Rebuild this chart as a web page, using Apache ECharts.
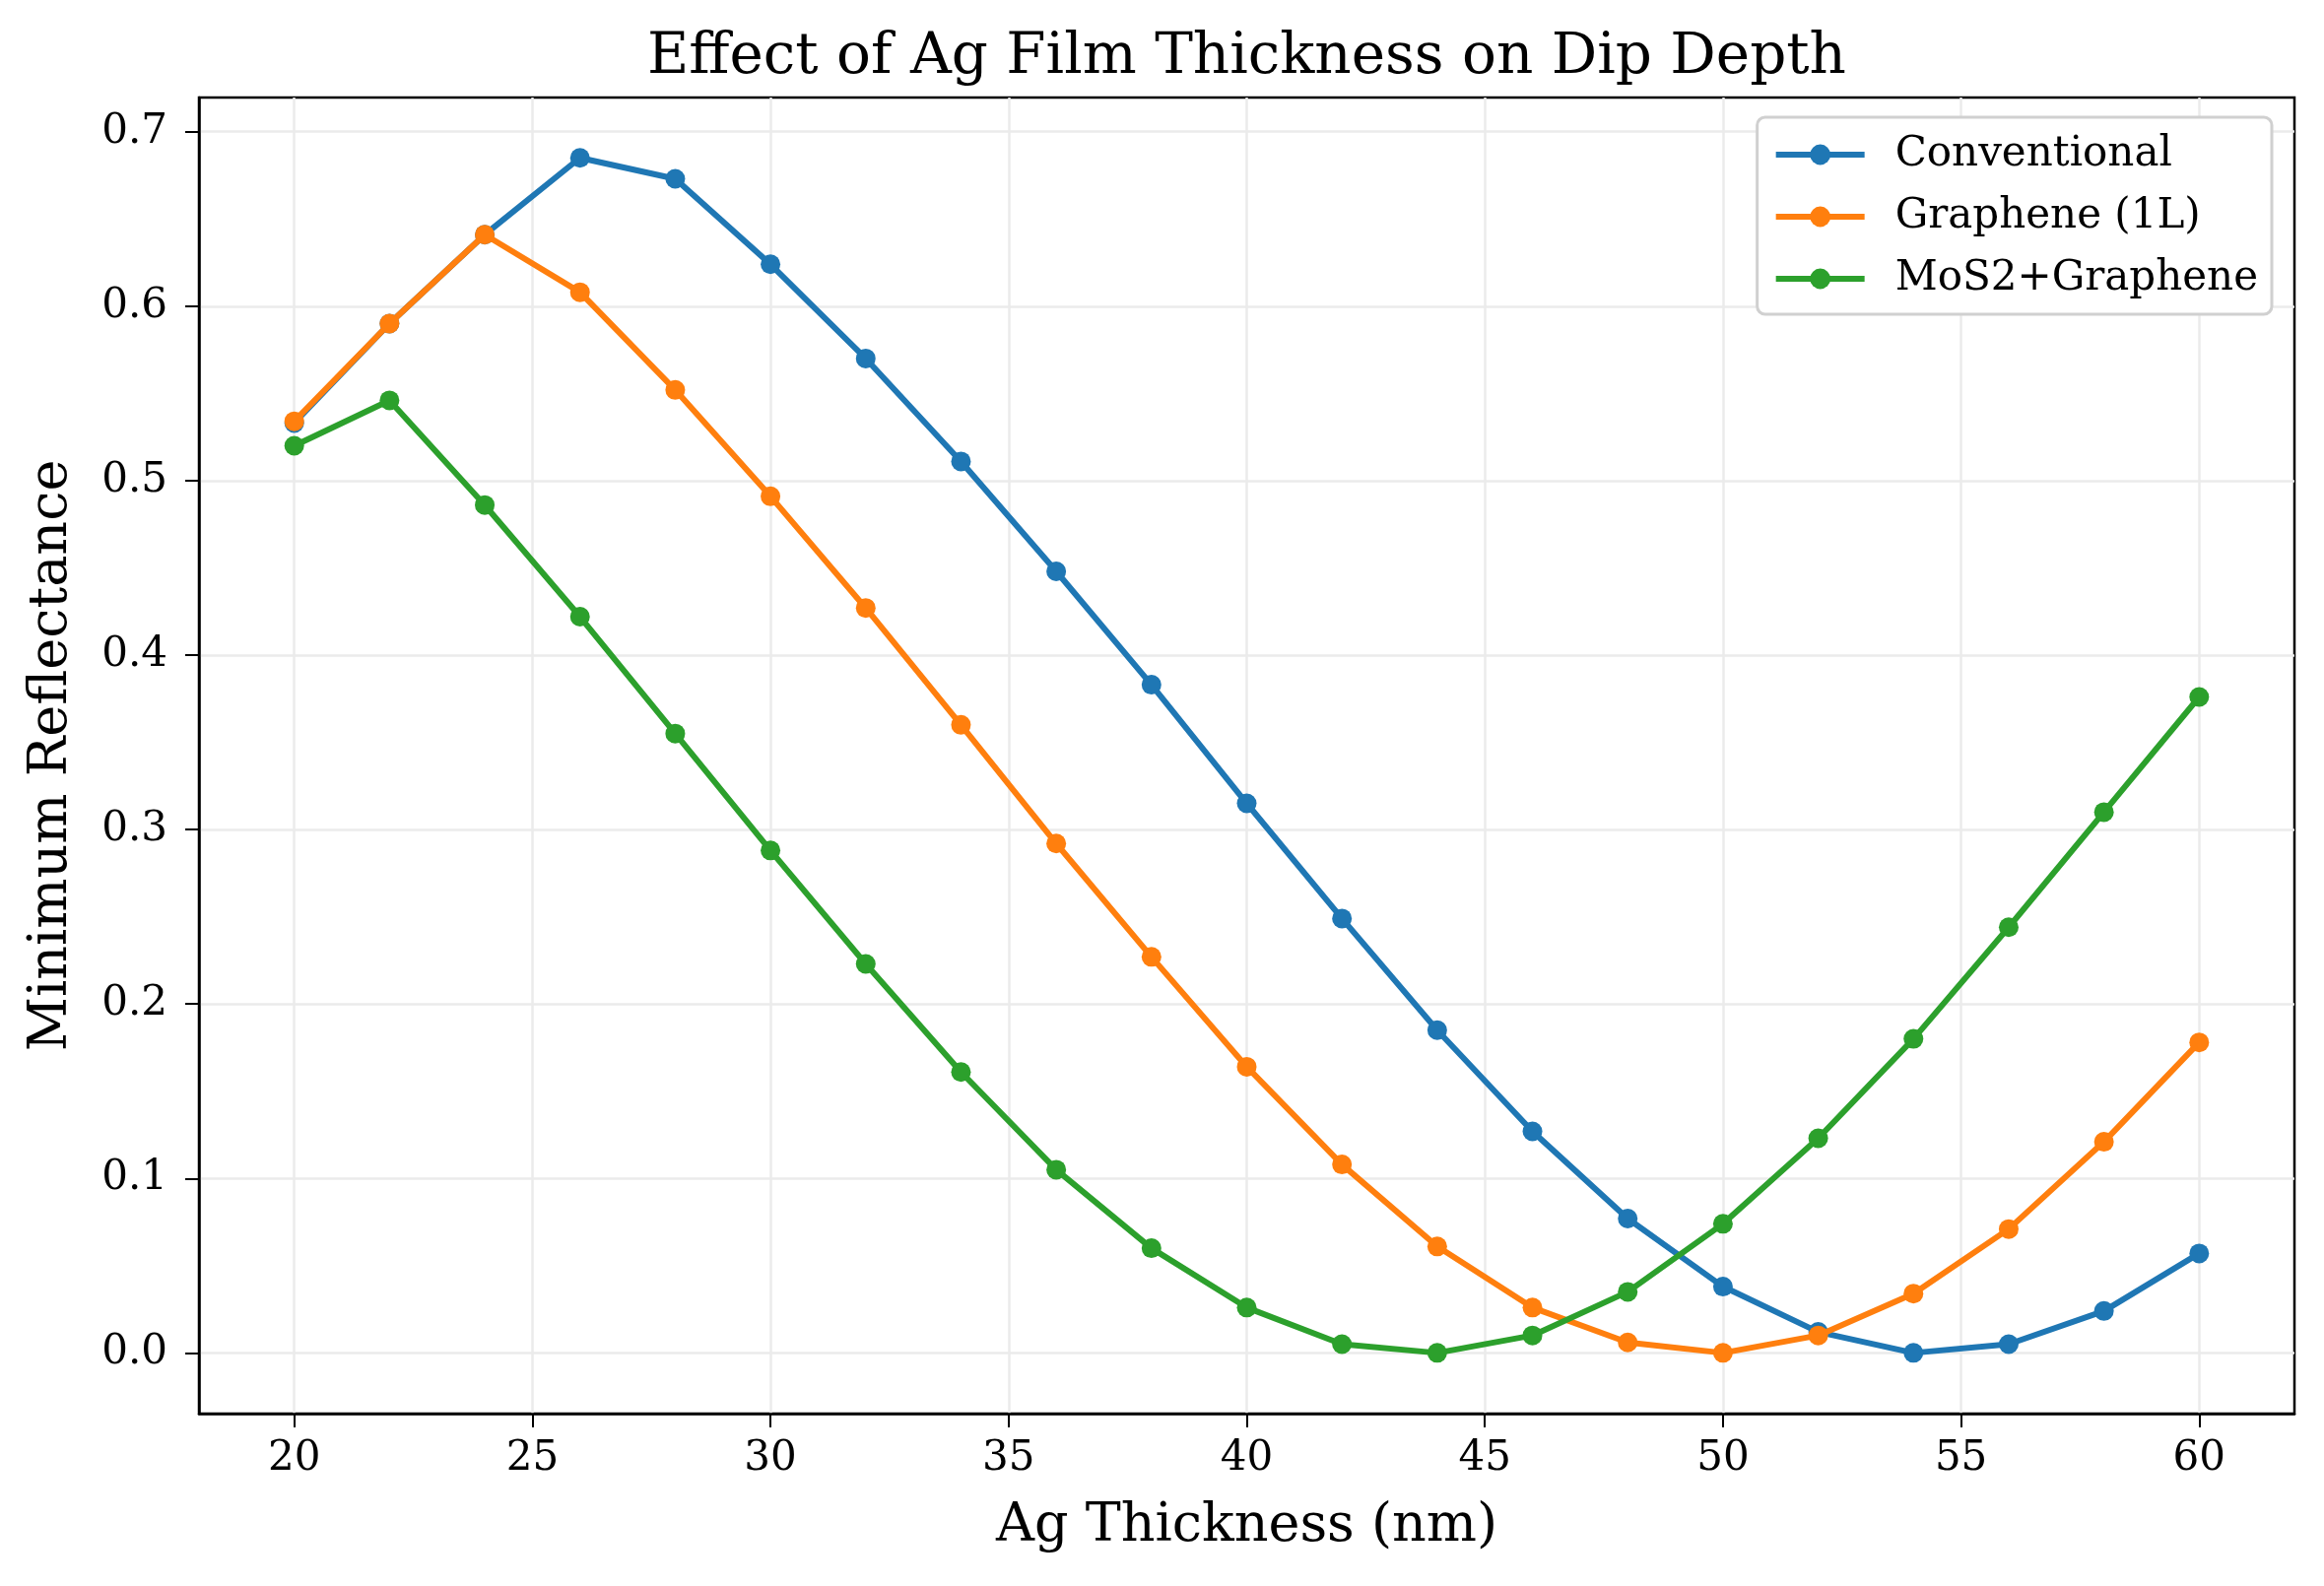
<!DOCTYPE html>
<html>
<head>
<meta charset="utf-8">
<script src="https://cdn.jsdelivr.net/npm/echarts@6/dist/echarts.min.js"></script>
<style>
  html, body { margin: 0; padding: 0; background: #fff; }
  #chart { width: 2359px; height: 1610px; }
</style>
</head>
<body>
<div id="chart"></div>
<script>
// Ag thickness (nm)
var thickness = [20, 22, 24, 26, 28, 30, 32, 34, 36, 38, 40, 42, 44, 46, 48, 50, 52, 54, 56, 58, 60];

// minimum reflectance
var conventional = [0.533, 0.590, 0.641, 0.685, 0.673, 0.624, 0.570, 0.511, 0.448, 0.383, 0.315,
    0.249, 0.185, 0.127, 0.077, 0.038, 0.012, 0.000, 0.005, 0.024, 0.057];
var graphene = [0.534, 0.590, 0.641, 0.608, 0.552, 0.491, 0.427, 0.360, 0.292, 0.227, 0.164,
    0.108, 0.061, 0.026, 0.006, 0.000, 0.010, 0.034, 0.071, 0.121, 0.178];
var mos2Graphene = [0.520, 0.546, 0.486, 0.422, 0.355, 0.288, 0.223, 0.161, 0.105, 0.060, 0.026,
    0.005, 0.000, 0.010, 0.035, 0.074, 0.123, 0.180, 0.244, 0.310, 0.376];

var xTicks = [20, 25, 30, 35, 40, 45, 50, 55, 60];
var yTicks = [0, 0.1, 0.2, 0.3, 0.4, 0.5, 0.6, 0.7];

var seriesNames = ['Conventional', 'Graphene (1L)', 'MoS2+Graphene'];
var colors = ['#1f77b4', '#ff7f0e', '#2ca02c'];

function pairs(ys) {
    return thickness.map(function(x, i) { return [x, ys[i]]; });
}

function createViz() {
    var myChart = echarts.init(document.getElementById('chart'));
    var font = 'DejaVu Serif';

    var option = {
        animation: false,
        color: colors,
        textStyle: { fontFamily: font },
        // title is centred over the plot area, not the page
        title: {
            text: 'Effect of Ag Film Thickness on Dip Depth',
            left: 652,
            top: 25,
            textStyle: { fontFamily: font, fontWeight: 'normal', fontSize: 58, color: '#000' }
        },
        grid: {
            left: 202, right: 30, top: 99, bottom: 175,
            show: true,
            borderColor: '#000',
            borderWidth: 2.5,
            containLabel: false
        },
        legend: {
            data: seriesNames,
            orient: 'vertical',
            right: 53,
            top: 119,
            padding: [17, 14, 15, 16],
            itemGap: 21,
            itemWidth: 90,
            itemHeight: 26,
            backgroundColor: '#fff',
            borderColor: '#d0d0d0',
            borderWidth: 3,
            borderRadius: 8,
            lineStyle: { width: 6 },
            textStyle: { fontFamily: font, fontSize: 42, color: '#000', padding: [0, 0, 0, 26] }
        },
        xAxis: {
            type: 'value',
            min: 18,
            max: 62,
            name: 'Ag Thickness (nm)',
            nameLocation: 'middle',
            nameGap: 88,
            nameTextStyle: { fontFamily: font, fontSize: 54, color: '#000' },
            axisLine: { show: true, onZero: false, lineStyle: { color: '#000', width: 2.5 } },
            axisTick: { show: true, length: 14, customValues: xTicks, lineStyle: { color: '#000', width: 2 } },
            axisLabel: { customValues: xTicks, fontFamily: font, fontSize: 42, color: '#000', margin: 25 },
            splitLine: { show: true, lineStyle: { color: '#ebebeb', width: 2.5 } }
        },
        yAxis: {
            type: 'value',
            min: -0.0348,
            max: 0.7196,
            name: 'Minimum Reflectance',
            nameLocation: 'middle',
            nameGap: 122,
            nameTextStyle: { fontFamily: font, fontSize: 54, color: '#000' },
            axisLine: { show: true, onZero: false, lineStyle: { color: '#000', width: 2.5 } },
            axisTick: { show: true, length: 14, customValues: yTicks, lineStyle: { color: '#000', width: 2 } },
            axisLabel: {
                customValues: yTicks,
                fontFamily: font, fontSize: 42, color: '#000', margin: 32,
                formatter: function(v) { return v.toFixed(1); }
            },
            splitLine: { show: true, lineStyle: { color: '#ebebeb', width: 2.5 } }
        },
        series: [conventional, graphene, mos2Graphene].map(function(ys, i) {
            return {
                name: seriesNames[i],
                type: 'line',
                data: pairs(ys),
                symbol: 'circle',
                symbolSize: 20,
                lineStyle: { width: 6 },
                itemStyle: { color: colors[i] },
                z: 2 + i
            };
        })
    };

    myChart.setOption(option);
}

createViz();
</script>
</body>
</html>
